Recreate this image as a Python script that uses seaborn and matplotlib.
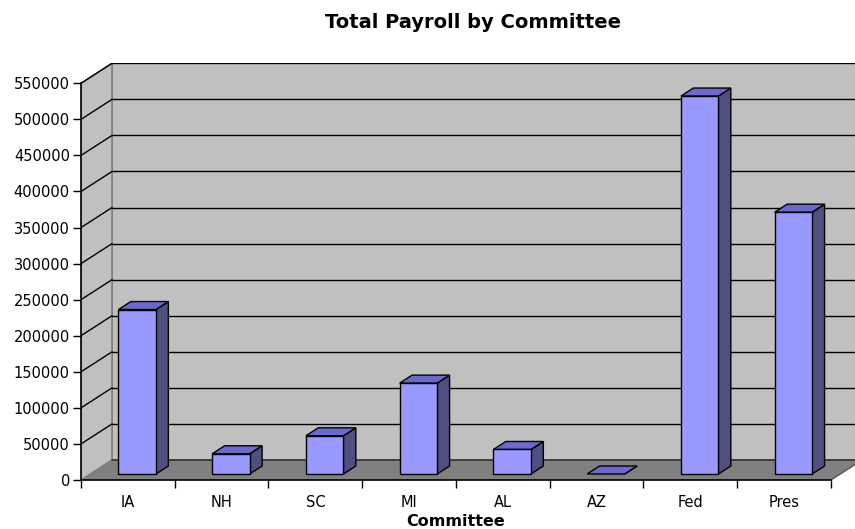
import matplotlib
matplotlib.use("Agg")
import matplotlib.pyplot as plt
from matplotlib.patches import Polygon
import seaborn as sns
import pandas as pd

committees = ["IA", "NH", "SC", "MI", "AL", "AZ", "Fed", "Pres"]
payroll = [228000, 28000, 53000, 126000, 34000, 0, 524000, 363000]
y_ticks = [0, 50000, 100000, 150000, 200000, 250000, 300000, 350000, 400000, 450000, 500000, 550000]

sns.set_theme(style="white")
plt.rcParams["font.family"] = ["DejaVu Sans"]
plt.rcParams["text.color"] = "black"
plt.rcParams["xtick.color"] = "black"
plt.rcParams["ytick.color"] = "black"

# oblique depth of the chart box, in data units
DX = 0.331
DY = 27730
YMAX = 550000
N = len(committees)

fig = plt.figure(figsize=(8.55, 5.29), dpi=100)
ax = fig.add_axes([81 / 855, 49 / 529, 781 / 855, 416.7 / 529])
ax.set_xlim(-0.5, N - 0.5 + DX)
ax.set_ylim(0, YMAX + DY)
ax.patch.set_alpha(0)

wall = "#C0C0C0"
floor = "#808080"
edge_gray = "#808080"

# back wall and side wall
ax.add_patch(Polygon([(-0.5 + DX, DY), (N - 0.5 + DX, DY), (N - 0.5 + DX, YMAX + DY),
                      (-0.5 + DX, YMAX + DY)], closed=True, fc=wall, ec=edge_gray, lw=1.2, zorder=0))
ax.add_patch(Polygon([(-0.5, 0), (-0.5 + DX, DY), (-0.5 + DX, YMAX + DY), (-0.5, YMAX)],
                     closed=True, fc=wall, ec=edge_gray, lw=1.2, zorder=0))
# floor
ax.add_patch(Polygon([(-0.5, 0), (N - 0.5, 0), (N - 0.5 + DX, DY), (-0.5 + DX, DY)],
                     closed=True, fc=floor, ec="none", zorder=0.5))
ax.plot([-0.5 + DX, N - 0.5 + DX], [DY, DY], color="#333333", lw=1.2, zorder=0.6)
ax.plot([N - 0.5, N - 0.5 + DX], [0, DY], color="#555555", lw=1.0, zorder=0.6)

# gridlines on back and side walls
for v in y_ticks[1:]:
    ax.plot([-0.5 + DX, N - 0.5 + DX], [v + DY, v + DY], color="black", lw=1.0, zorder=0.4)
    ax.plot([-0.5, -0.5 + DX], [v, v + DY], color="black", lw=1.0, zorder=0.4)

# bars: front faces drawn by seaborn, then pushed into the box depth
df = pd.DataFrame({"Committee": committees, "Payroll": payroll})
sns.barplot(data=df, x="Committee", y="Payroll", order=committees, width=0.4,
            color="#9999FF", saturation=1, edgecolor="black", linewidth=1.0, ax=ax, zorder=3)
ax.set_xlim(-0.5, N - 0.5 + DX)
ax.set_ylim(0, YMAX + DY)

f0 = 0.3   # front face depth fraction
fd = 0.4   # bar depth fraction
bx, by = fd * DX, fd * DY
for p in list(ax.patches):
    if p.get_facecolor()[:3] == matplotlib.colors.to_rgb("#9999FF") and p.get_width() < 0.5:
        x0 = p.get_x() + f0 * DX
        y0 = f0 * DY
        w = p.get_width()
        h = p.get_height()
        p.set_x(x0)
        p.set_y(y0)
        top = [(x0, y0 + h), (x0 + w, y0 + h), (x0 + w + bx, y0 + h + by), (x0 + bx, y0 + h + by)]
        side = [(x0 + w, y0), (x0 + w + bx, y0 + by), (x0 + w + bx, y0 + h + by), (x0 + w, y0 + h)]
        ax.add_patch(Polygon(side, closed=True, fc="#4F4F80", ec="black", lw=1.0, zorder=2.9))
        ax.add_patch(Polygon(top, closed=True, fc="#6A6ACC", ec="black", lw=1.0, zorder=2.9))
        if h == 0:
            p.set_visible(False)

# axes: front value axis and category axis
for s in ["top", "right"]:
    ax.spines[s].set_visible(False)
ax.spines["left"].set_bounds(0, YMAX)
ax.spines["bottom"].set_bounds(-0.5, N - 0.5)
for s in ["left", "bottom"]:
    ax.spines[s].set_color("black")
    ax.spines[s].set_linewidth(1.2)
    ax.spines[s].set_zorder(5)

ax.set_yticks(y_ticks)
ax.set_yticklabels([str(v) for v in y_ticks], fontsize=10.5)
ax.set_xticks([i - 0.5 for i in range(N + 1)])
ax.set_xticklabels([""] * (N + 1))
ax.set_xticks(range(N), minor=True)
ax.set_xticklabels(committees, minor=True, fontsize=10.5)
ax.tick_params(axis="y", which="major", length=6, width=1, color="black", pad=2, left=True)
ax.tick_params(axis="x", which="major", length=6, width=1, color="black", bottom=True)
ax.tick_params(axis="x", which="minor", length=0, pad=11)
ax.set_xlabel("")
ax.set_ylabel("")

fig.text(473 / 855, 1 - 22 / 529, "Total Payroll by Committee", ha="center", va="center",
         fontsize=14, fontweight="bold")
fig.text(456 / 855, 1 - 521 / 529, "Committee", ha="center", va="center",
         fontsize=11.5, fontweight="bold")

fig.savefig("out.png", dpi=100, facecolor="white")
